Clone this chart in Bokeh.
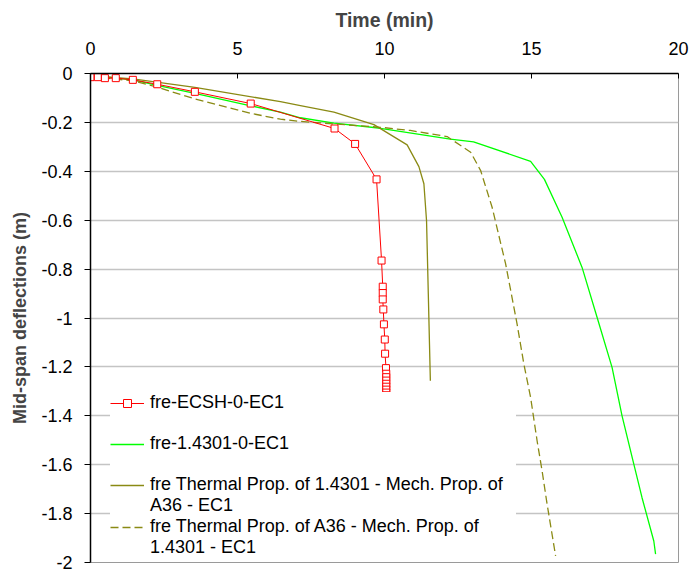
from bokeh.plotting import figure
from bokeh.models import Range1d, FixedTicker, CustomJSTickFormatter, Legend, LegendItem
from bokeh.embed import file_html
from bokeh.resources import INLINE

# ---- data (time in min, mid-span deflection in m) ----
ecsh_time = [0.0, 0.25, 0.49, 0.86, 1.44, 2.27, 3.55, 5.45, 8.30, 9.00, 9.73, 9.90,
             9.94, 9.94, 9.94, 9.96, 9.98, 10.01, 10.02, 10.05,
             10.06, 10.06, 10.06, 10.06, 10.06, 10.06, 10.06, 10.06]
ecsh_defl = [-0.015, -0.015, -0.019, -0.019, -0.026, -0.044, -0.075, -0.123, -0.225, -0.288, -0.433, -0.765,
             -0.872, -0.898, -0.924, -0.965, -1.026, -1.088, -1.146, -1.205,
             -1.228, -1.242, -1.256, -1.269, -1.281, -1.293, -1.305, -1.316]

ss_time = [0.0, 1.44, 2.27, 3.55, 5.45, 6.46, 7.14, 8.28, 9.86, 12.24, 13.03, 14.97, 15.44,
           16.04, 16.72, 17.23, 17.74, 18.08, 18.48, 18.76, 19.16, 19.22]
ss_defl = [-0.008, -0.026, -0.049, -0.081, -0.132, -0.158, -0.181, -0.203, -0.224, -0.268, -0.280, -0.359, -0.433,
           -0.588, -0.793, -0.997, -1.202, -1.400, -1.598, -1.735, -1.912, -1.966]

th_ss_time = [0.0, 1.44, 3.55, 6.46, 7.14, 8.28, 9.64, 10.77, 11.17, 11.34, 11.43, 11.49, 11.56]
th_ss_defl = [-0.009, -0.022, -0.057, -0.115, -0.131, -0.158, -0.209, -0.292, -0.381, -0.451, -0.602, -0.902, -1.257]

th_a36_time = [0.0, 1.44, 2.27, 3.55, 5.45, 6.46, 7.14, 9.86, 10.88, 12.13, 12.93, 13.27, 13.66,
               14.12, 14.51, 14.74, 14.97, 15.19, 15.36, 15.53, 15.82]
th_a36_defl = [-0.012, -0.030, -0.056, -0.104, -0.163, -0.187, -0.196, -0.220, -0.233, -0.258, -0.322, -0.397, -0.547,
               -0.779, -1.025, -1.188, -1.325, -1.502, -1.625, -1.761, -1.973]

x_ticks = [0, 5, 10, 15, 20]
y_ticks = [0, -0.2, -0.4, -0.6, -0.8, -1.0, -1.2, -1.4, -1.6, -1.8, -2.0]

# legend texts (long ones wrapped over two rows, as in the original)
label_ecsh = "fre-ECSH-0-EC1"
label_ss = "fre-1.4301-0-EC1"
label_th_ss = ["fre Thermal Prop. of 1.4301 - Mech. Prop. of", "A36 - EC1"]
label_th_a36 = ["fre Thermal Prop. of A36 - Mech. Prop. of", "1.4301 - EC1"]

FONT = "Liberation Sans"
OLIVE = "#8a8a14"

p = figure(width=693, height=573, output_backend="svg", toolbar_location=None,
           x_range=Range1d(0, 20), y_range=Range1d(-2, 0), x_axis_location="above",
           min_border_left=90, min_border_top=73, min_border_right=15, min_border_bottom=11)

p.background_fill_color = "white"
p.border_fill_color = "white"
p.outline_line_color = "#9a9a9a"
p.outline_line_width = 1

# axes
xa = p.xaxis[0]
xa.ticker = FixedTicker(ticks=x_ticks)
xa.axis_label = "Time (min)"
xa.axis_label_text_font = FONT
xa.axis_label_text_font_style = "bold"
xa.axis_label_text_font_size = "19.5px"
xa.axis_label_standoff = 8
xa.major_label_text_font = FONT
xa.major_label_text_font_size = "18px"
xa.major_label_text_color = "black"
xa.major_label_standoff = 19
xa.major_tick_in = 5
xa.major_tick_out = 0
xa.minor_tick_line_color = None
xa.axis_line_color = "black"
xa.axis_line_width = 1.5
xa.major_tick_line_color = "black"

ya = p.yaxis[0]
ya.ticker = FixedTicker(ticks=y_ticks)
ya.formatter = CustomJSTickFormatter(code="return String(Math.round(tick*10)/10);")
ya.axis_label = "Mid-span deflections (m)"
ya.axis_label_text_font = FONT
ya.axis_label_text_font_style = "bold"
ya.axis_label_text_font_size = "18px"
ya.axis_label_standoff = 8
ya.major_label_text_font = FONT
ya.major_label_text_font_size = "18px"
ya.major_label_text_color = "black"
ya.major_label_standoff = 12
ya.major_tick_in = 0
ya.major_tick_out = 6
ya.minor_tick_line_color = None
ya.axis_line_color = "black"
ya.axis_line_width = 1.5
ya.major_tick_line_color = "black"

p.xgrid.grid_line_color = None
p.ygrid.ticker = FixedTicker(ticks=y_ticks)
p.ygrid.grid_line_color = "#c4c4c4"
p.ygrid.grid_line_width = 1.4

# series
r_ss = p.line(ss_time, ss_defl, line_color="#00ff00", line_width=1.3)
r_th1 = p.line(th_ss_time, th_ss_defl, line_color=OLIVE, line_width=1.3)
r_th2 = p.line(th_a36_time, th_a36_defl, line_color=OLIVE, line_width=1.3, line_dash="8 4")
r_ec_l = p.line(ecsh_time, ecsh_defl, line_color="#ff0000", line_width=1)
r_ec_m = p.scatter(ecsh_time, ecsh_defl, marker="square", size=7, line_color="#ff0000",
                   fill_color="white", line_width=1)

items = [LegendItem(label=label_ecsh, renderers=[r_ec_l, r_ec_m]),
         LegendItem(label=" ", renderers=[]),
         LegendItem(label=label_ss, renderers=[r_ss]),
         LegendItem(label=" ", renderers=[]),
         LegendItem(label=label_th_ss[0], renderers=[r_th1]),
         LegendItem(label=label_th_ss[1], renderers=[]),
         LegendItem(label=label_th_a36[0], renderers=[r_th2]),
         LegendItem(label=label_th_a36[1], renderers=[])]

legend = Legend(items=items, location=(20, 4), margin=0, padding=8, spacing=0,
                glyph_width=34, glyph_height=20, label_height=20, label_width=366,
                label_standoff=6,
                label_text_font=FONT, label_text_font_size="18px", label_text_color="black",
                background_fill_color="white", background_fill_alpha=1.0,
                border_line_color=None, level="underlay")
p.add_layout(legend, "center")

open("out.html", "w").write(file_html(p, INLINE))
